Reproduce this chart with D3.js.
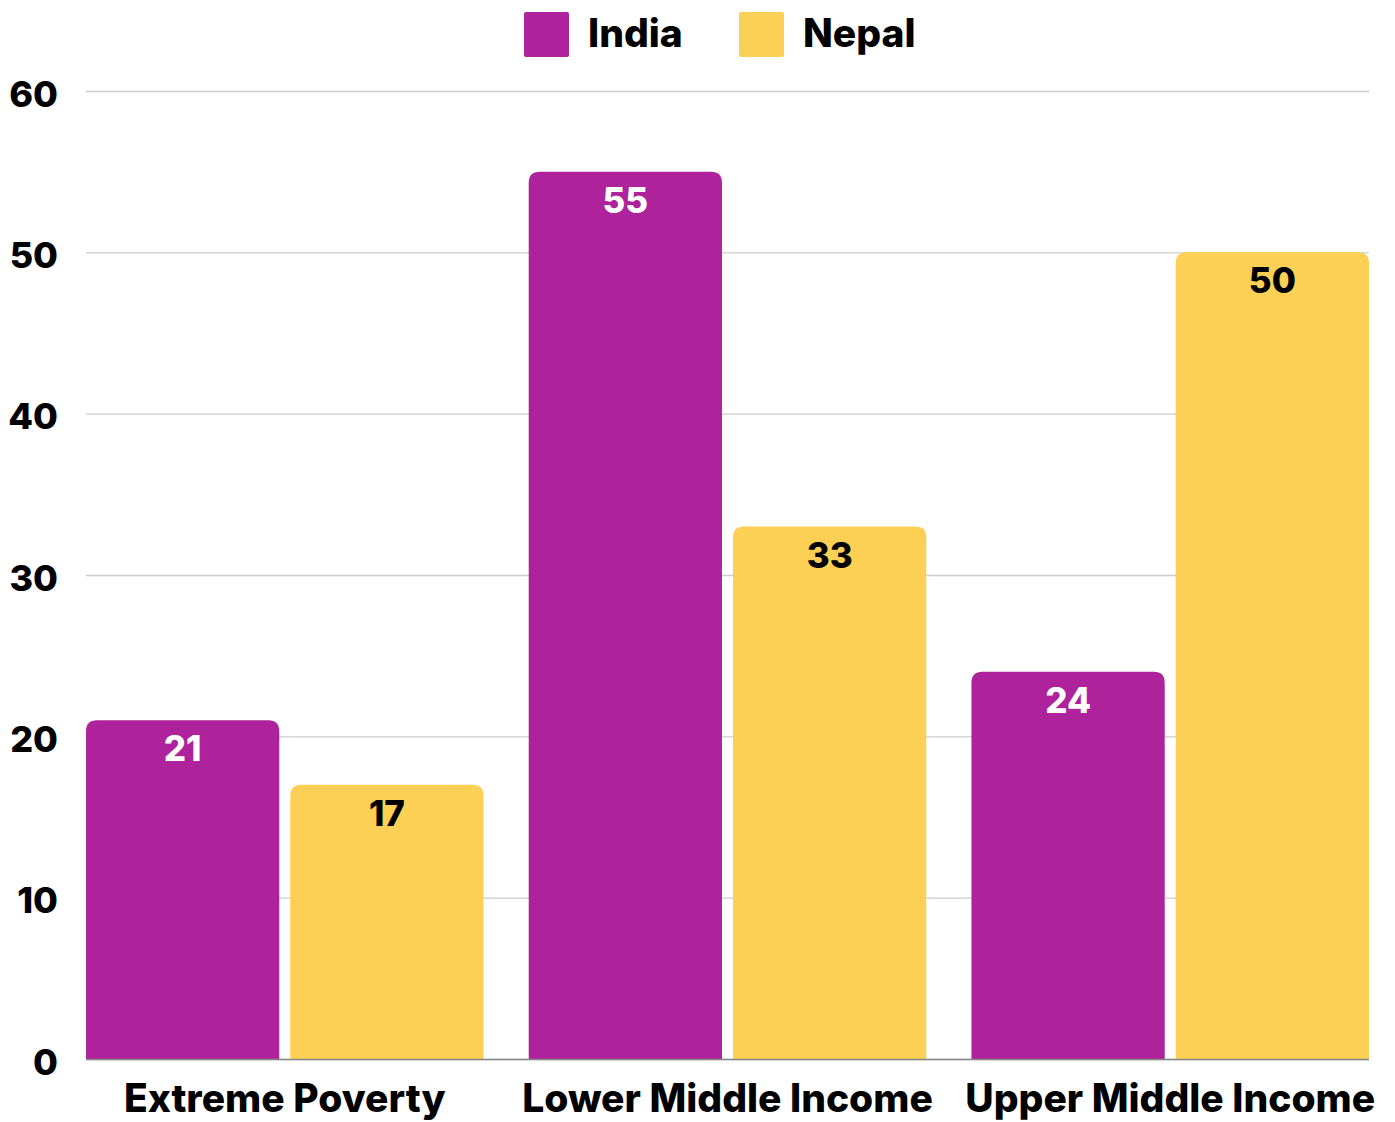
<!DOCTYPE html>
<html><head><meta charset="utf-8">
<script src="https://cdn.jsdelivr.net/npm/d3@7"></script>
<style>body{margin:0;background:#fff}svg{display:block;font-family:Inter,"Open Sans",sans-serif;font-weight:700}</style>
</head><body><svg id="c" width="1395" height="1122"></svg>
<script>
const categories = ["Extreme Poverty","Lower Middle Income","Upper Middle Income"];
const seriesNames = ["India","Nepal"];
const india = [21,55,24];
const nepal = [17,33,50];
const yTicks = [0,10,20,30,40,50,60];
const colors = {India:"#AE239B", Nepal:"#FCCF55"};
const labelColors = {India:"#ffffff", Nepal:"#000000"};

const svg = d3.select("#c");
const m = {l:86, r:1369, t:91, b:1059};
const x0 = d3.scaleBand().domain(categories).range([m.l,m.r]).paddingInner(0.102).paddingOuter(0);
const x1 = d3.scaleBand().domain(seriesNames).range([0,x0.bandwidth()]).paddingInner(0.054);
const y = d3.scaleLinear().domain([0,60]).range([m.b,m.t]);

// grid
const yAxis = d3.axisLeft(y).tickValues(yTicks).tickSize(-(m.r-m.l)).tickPadding(28);
const ga = svg.append("g").attr("transform",`translate(${m.l},0)`).call(yAxis);
ga.select(".domain").remove();
ga.selectAll(".tick line").attr("stroke","#cccccc").attr("stroke-width",1.3);
ga.selectAll(".tick text").attr("font-size",36).attr("font-weight",800).attr("fill","#000")
  .attr("font-family","Inter,sans-serif").attr("dy","0.42em");

const data = categories.map((c,i)=>({cat:c, vals:[{s:"India",v:india[i]},{s:"Nepal",v:nepal[i]}]}));
const r = 11;
function barPath(x,w,yt,yb){
  return `M${x},${yb}V${yt+r}Q${x},${yt} ${x+r},${yt}H${x+w-r}Q${x+w},${yt} ${x+w},${yt+r}V${yb}Z`;
}
const g = svg.append("g");
data.forEach(d=>{
  d.vals.forEach(v=>{
    const bx = x0(d.cat)+x1(v.s), bw = x1.bandwidth();
    g.append("path").attr("d",barPath(bx,bw,y(v.v),y(0))).attr("fill",colors[v.s]);
    g.append("text").attr("x",bx+bw/2).attr("y",y(v.v)+41).attr("text-anchor","middle")
      .attr("font-size",35).attr("font-weight",800).attr("fill",labelColors[v.s]).text(v.v);
  });
});
// baseline
svg.append("line").attr("x1",m.l).attr("x2",m.r).attr("y1",y(0)+0.5).attr("y2",y(0)+0.5).attr("stroke","#888").attr("stroke-width",1.3);

// x axis labels
const xa = d3.axisBottom(x0).tickSize(0).tickPadding(25);
const gx = svg.append("g").attr("transform",`translate(0,${y(0)})`).call(xa);
gx.select(".domain").remove();
gx.selectAll(".tick text").attr("font-size",39).attr("font-weight",800).attr("fill","#000").attr("font-family","Inter,sans-serif");

// legend
const leg = [{s:"India",x:524,tx:588},{s:"Nepal",x:739,tx:803}];
leg.forEach(l=>{
  svg.append("rect").attr("x",l.x).attr("y",12).attr("width",45).attr("height",45).attr("rx",2).attr("fill",colors[l.s]);
  svg.append("text").attr("x",l.tx).attr("y",47).attr("font-size",39).attr("font-weight",800).attr("fill","#000").text(l.s);
});
</script></body></html>
